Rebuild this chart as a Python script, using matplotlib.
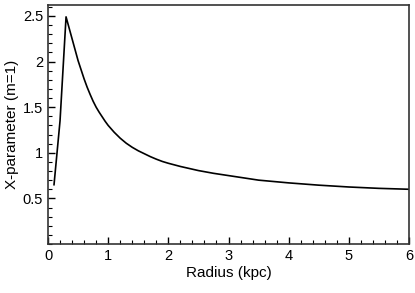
import matplotlib
matplotlib.use("Agg")
import matplotlib.pyplot as plt
from matplotlib.ticker import MultipleLocator, FixedLocator, FuncFormatter

radius = [0.1, 0.2, 0.3, 0.35, 0.4, 0.45, 0.5, 0.55, 0.6, 0.65, 0.7, 0.75, 0.8, 0.85,
          0.9, 0.95, 1.0, 1.1, 1.2, 1.3, 1.4, 1.5, 1.6, 1.7, 1.8, 1.9,
          2.0, 2.2, 2.5, 2.75, 3.0, 3.25, 3.5, 4.0, 4.5, 5.0, 5.5, 6.0]
x_param = [0.65, 1.35, 2.49, 2.37, 2.25, 2.13, 2.01, 1.91, 1.81, 1.72, 1.64, 1.565, 1.50, 1.445,
           1.395, 1.345, 1.30, 1.225, 1.16, 1.105, 1.06, 1.022, 0.99, 0.958, 0.93, 0.905,
           0.885, 0.85, 0.805, 0.775, 0.75, 0.725, 0.70, 0.67, 0.645, 0.625, 0.61, 0.60]
xticks = [0, 1, 2, 3, 4, 5, 6]
yticks = [0.5, 1.0, 1.5, 2.0, 2.5]

plt.rcParams['font.family'] = ['Liberation Sans', 'DejaVu Sans']

fig = plt.figure(figsize=(4.15, 2.93), dpi=100)
ax = fig.add_axes([48/415, 49/293, 361/415, 239/293])
ax.plot(radius, x_param, color='black', lw=1.2)

ax.set_xlim(0, 6)
ax.set_ylim(0, 2.62)
ax.xaxis.set_major_locator(FixedLocator(xticks))
ax.xaxis.set_minor_locator(MultipleLocator(0.2))
ax.yaxis.set_major_locator(FixedLocator(yticks))
ax.yaxis.set_minor_locator(MultipleLocator(0.1))
ax.yaxis.set_major_formatter(FuncFormatter(lambda v, p: ('%g' % v)))

ax.tick_params(which='both', direction='in', top=False, right=False, labelsize=10.5, colors='black')
ax.tick_params(which='major', length=5, width=1)
ax.tick_params(which='minor', length=3, width=0.8)
for s in ax.spines.values():
    s.set_linewidth(1.2)
    s.set_color('#333333')

ax.set_xlabel('Radius (kpc)', fontsize=11, labelpad=2)
ax.set_ylabel('X-parameter (m=1)', fontsize=11, labelpad=3)

fig.savefig('out.png', dpi=100)
